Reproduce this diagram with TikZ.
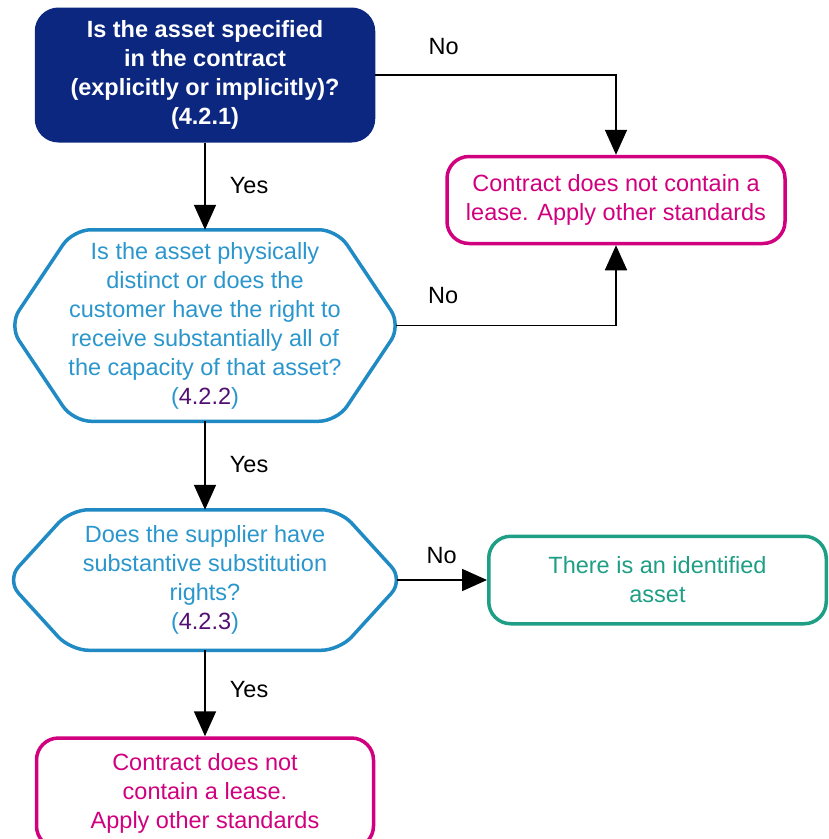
\documentclass[tikz,border=0pt]{standalone}
\usepackage{fontspec}
\setmainfont{Liberation Sans}
\usetikzlibrary{arrows.meta}

\begin{document}
\begin{tikzpicture}[x=1pt,y=-1pt,
        caja/.style={rounded corners=22pt,line width=3.5pt,align=center,inner sep=0pt,
            font=\fontsize{23.5}{29}\selectfont},
        pregunta/.style={align=center,inner sep=0pt,outer sep=0pt,text=tblue,
            font=\fontsize{23.5}{29}\selectfont},
        hexa/.style={draw=hblue,line width=3.5pt,rounded corners=18pt},
        flecha/.style={line width=1.8pt,-{Triangle[length=25pt,width=22pt]}},
        etiq/.style={font=\fontsize{23.5}{29}\selectfont,inner sep=3pt}]
        %colores
        \definecolor{kblue}{HTML}{0C2780}
        \definecolor{hblue}{HTML}{1F8AC4}
        \definecolor{tblue}{HTML}{2A96CC}
        \definecolor{kpurp}{HTML}{510F72}
        \definecolor{kmag}{HTML}{D1007E}
        \definecolor{kgreen}{HTML}{1E9E85}

        \useasboundingbox (0,0) rectangle (829,839);
        \clip (0,0) rectangle (829,839);

        % cajas
        \node[caja,fill=kblue,draw=kblue,text=white,minimum width=337,minimum height=131.5,
            font=\fontsize{23.5}{29}\selectfont\bfseries] (q1) at (205,75)
            {Is the asset specified\\in the contract\\(explicitly or implicitly)?\\(4.2.1)};
        \node[caja,draw=kmag,text=kmag,minimum width=338,minimum height=87] (nolease1) at (616,200)
            {Contract does not contain a\\lease. Apply other standards};
        \node[caja,draw=kgreen,text=kgreen,minimum width=337.5,minimum height=87.5] (ident) at (657.5,580)
            {There is an identified\\asset};
        \node[caja,draw=kmag,text=kmag,minimum width=337,minimum height=110] (nolease2) at (205,793)
            {Contract does not\\contain a lease.\\Apply other standards};

        % hexagonos
        \node[pregunta,minimum width=392,minimum height=191.5] (q2) at (205,325.5)
            {Is the asset physically\\distinct or does the\\customer have the right to\\receive substantially all of\\the capacity of that asset?\\(\textcolor{kpurp}{4.2.2})};
        \draw[hexa] (q2.west) -- ([xshift=64pt]q2.north west) -- ([xshift=-64pt]q2.north east) -- (q2.east)
            -- ([xshift=-64pt]q2.south east) -- ([xshift=64pt]q2.south west) -- cycle;

        \node[pregunta,minimum width=397,minimum height=140.5] (q3) at (205,580)
            {Does the supplier have\\substantive substitution\\rights?\\(\textcolor{kpurp}{4.2.3})};
        \draw[hexa] (q3.west) -- ([xshift=64pt]q3.north west) -- ([xshift=-64pt]q3.north east) -- (q3.east)
            -- ([xshift=-64pt]q3.south east) -- ([xshift=64pt]q3.south west) -- cycle;

        % flechas
        \draw[flecha] (q1.east) -| (nolease1.north) node[etiq,pos=.142,above=16pt] {No};
        \draw[flecha] (q1.south) -- (q2.north) node[etiq,pos=.49,right=21pt] {Yes};
        \draw[flecha] ([xshift=-5pt]q2.east) -| (nolease1.south) node[etiq,pos=.107,above=18pt] {No};
        \draw[flecha] (q2.south) -- (q3.north) node[etiq,pos=.49,right=21pt] {Yes};
        \draw[flecha] ([xshift=-7pt]q3.east) -- (ident.west) node[etiq,pos=.5,above=12pt] {No};
        \draw[flecha] (q3.south) -- (nolease2.north) node[etiq,pos=.46,right=21pt] {Yes};
    \end{tikzpicture}
\end{document}
